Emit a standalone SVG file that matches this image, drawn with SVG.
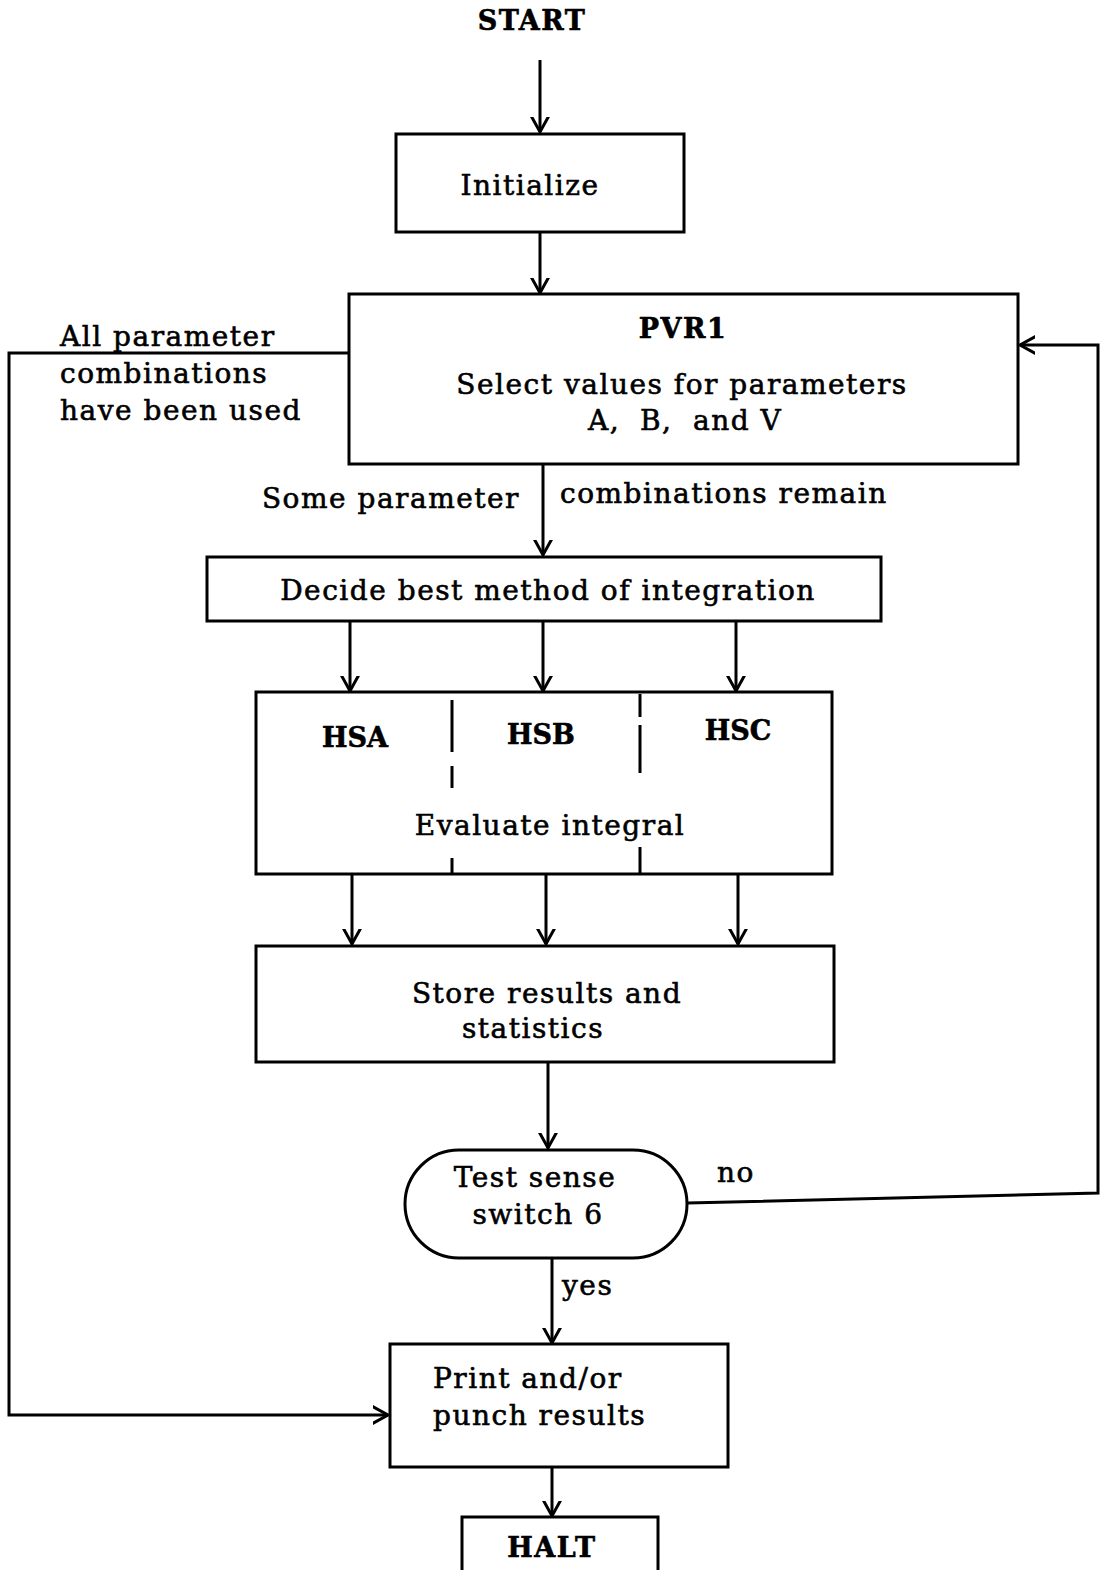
<svg xmlns="http://www.w3.org/2000/svg" width="1101" height="1570" viewBox="0 0 1101 1570">
<style>
.b{fill:#fff;stroke:#000;stroke-width:3}
.t{font-family:"DejaVu Serif","Liberation Serif",serif;font-size:28px;letter-spacing:1.5px;fill:#000;stroke:#000;stroke-width:0.6}
.c{text-anchor:middle}
.h{font-weight:bold;font-size:27px}
.n{letter-spacing:0}
.l{fill:none;stroke:#000;stroke-width:3}
</style>
<defs>
<marker id="a" markerUnits="userSpaceOnUse" markerWidth="30" markerHeight="30" viewBox="-15 -15 30 30" refX="0" refY="0" orient="auto">
<path d="M-20,-11 L0,0 L-20,11" fill="none" stroke="#000" stroke-width="3"/>
</marker>
</defs>
<rect width="1101" height="1570" fill="#fff"/>
<g id="connectors">
<line class="l" x1="540" y1="60" x2="540" y2="132" marker-end="url(#a)"/>
<line class="l" x1="540" y1="232" x2="540" y2="293" marker-end="url(#a)"/>
<polyline class="l" points="349,353 9,353 9,1415 388,1415" marker-end="url(#a)"/>
<line class="l" x1="543" y1="464" x2="543" y2="555" marker-end="url(#a)"/>
<line class="l" x1="350" y1="621" x2="350" y2="691" marker-end="url(#a)"/>
<line class="l" x1="543" y1="621" x2="543" y2="691" marker-end="url(#a)"/>
<line class="l" x1="736" y1="621" x2="736" y2="691" marker-end="url(#a)"/>
<line class="l" x1="352" y1="874" x2="352" y2="944" marker-end="url(#a)"/>
<line class="l" x1="546" y1="874" x2="546" y2="944" marker-end="url(#a)"/>
<line class="l" x1="738" y1="874" x2="738" y2="944" marker-end="url(#a)"/>
<line class="l" x1="548" y1="1062" x2="548" y2="1148" marker-end="url(#a)"/>
<polyline class="l" points="687,1203 1098,1193 1098,345 1020,345" marker-end="url(#a)"/>
<line class="l" x1="552" y1="1258" x2="552" y2="1343" marker-end="url(#a)"/>
<line class="l" x1="552" y1="1467" x2="552" y2="1516" marker-end="url(#a)"/>
<text class="t" x="60" y="346">All parameter</text>
<text class="t" x="60" y="383">combinations</text>
<text class="t" x="60" y="420">have been used</text>
<text class="t" x="520" y="508" text-anchor="end">Some parameter</text>
<text class="t" x="560" y="503">combinations remain</text>
<text class="t" x="717" y="1182">no</text>
<text class="t" x="562" y="1295">yes</text>
</g>
<g id="start"><text class="t c h" x="532" y="30">START</text></g>
<g id="initialize">
<rect class="b" x="396" y="134" width="288" height="98"/>
<text class="t c" x="530" y="195">Initialize</text>
</g>
<g id="pvr1">
<rect class="b" x="349" y="294" width="669" height="170"/>
<text class="t c h" x="683" y="338">PVR1</text>
<text class="t c" x="682" y="394">Select values for parameters</text>
<text class="t" y="430"><tspan x="588">A,</tspan><tspan x="640">B,</tspan><tspan x="693">and V</tspan></text>
</g>
<g id="decide">
<rect class="b" x="207" y="557" width="674" height="64"/>
<text class="t c" x="548" y="600">Decide best method of integration</text>
</g>
<g id="evaluate">
<rect class="b" x="256" y="692" width="576" height="182"/>
<path class="l" d="M452,700V752M452,766V788M452,858V874M640,694V717M640,725V773M640,847V874"/>
<text class="t c h n" x="355" y="747">HSA</text>
<text class="t c h n" x="541" y="744">HSB</text>
<text class="t c h n" x="738" y="740">HSC</text>
<text class="t c" x="550" y="835">Evaluate integral</text>
</g>
<g id="store">
<rect class="b" x="256" y="946" width="578" height="116"/>
<text class="t c" x="547" y="1003">Store results and</text>
<text class="t c" x="533" y="1038">statistics</text>
</g>
<g id="test">
<rect class="b" x="405" y="1150" width="282" height="108" rx="54" ry="54"/>
<text class="t c" x="535" y="1187">Test sense</text>
<text class="t c" x="538" y="1224">switch 6</text>
</g>
<g id="print">
<rect class="b" x="390" y="1344" width="338" height="123"/>
<text class="t" x="433" y="1388">Print and/or</text>
<text class="t" x="433" y="1425">punch results</text>
</g>
<g id="halt">
<rect class="b" x="462" y="1517" width="196" height="60"/>
<text class="t c h" x="552" y="1557">HALT</text>
</g>
</svg>
